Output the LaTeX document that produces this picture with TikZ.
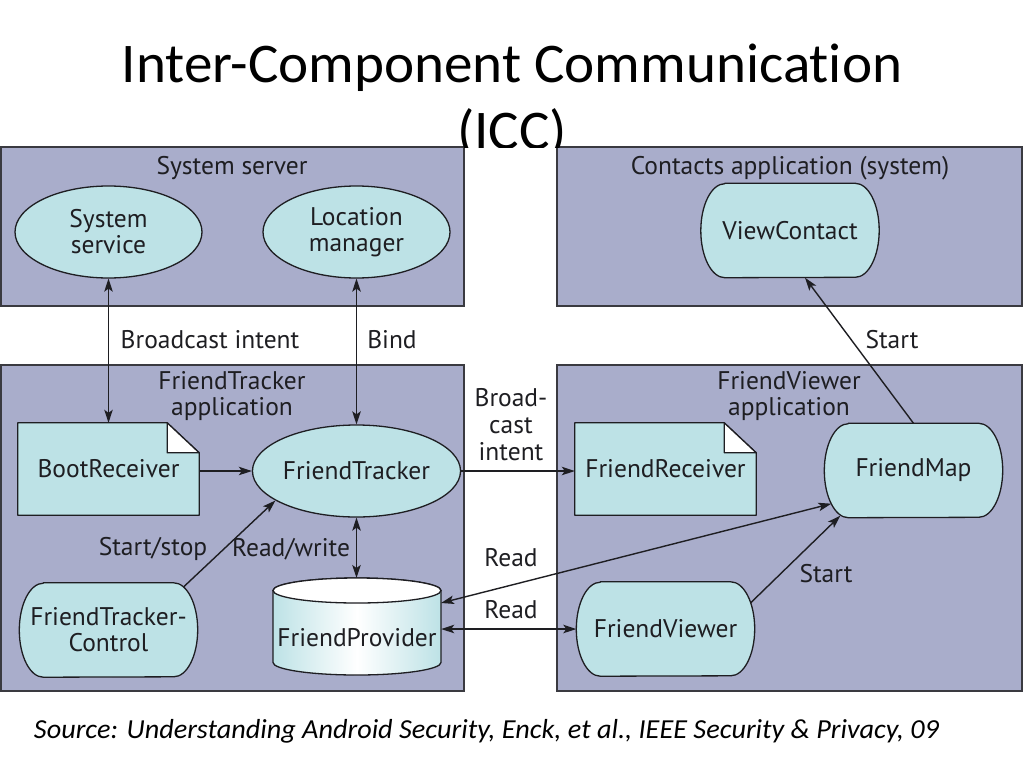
\documentclass[tikz,border=0pt]{standalone}
\usepackage{fontspec}
\setmainfont{PT Sans}
\newfontfamily\titlefont[Ligatures=NoCommon]{Carlito}
\usetikzlibrary{arrows.meta,shapes.geometric}
\definecolor{boxfill}{HTML}{A9ADCB}
\definecolor{nodefill}{HTML}{BDE2E6}
\definecolor{ink}{HTML}{1E1E22}
\definecolor{boxline}{HTML}{3A3A40}
\pgfdeclarelayer{grp}\pgfdeclarelayer{shp}\pgfsetlayers{grp,shp,main}
\tikzset{
  grpbox/.style={draw=boxline, fill=boxfill, line width=1.6pt},
  txt/.style={font=\fontsize{25.5}{26}\selectfont, text=ink, align=center, inner sep=0pt},
  lbl/.style={txt},
  ellnode/.style={txt, ellipse, draw=ink, fill=nodefill, line width=1.3pt, minimum width=187pt, minimum height=92pt},
  actnode/.style={txt, minimum width=178pt, minimum height=94pt},
  docnode/.style={txt, minimum width=181pt, minimum height=92pt},
  dbnode/.style={txt, minimum width=168pt, minimum height=97pt},
  shapeline/.style={draw=ink, fill=nodefill, line width=1.3pt, line join=round},
  conn/.style={draw=ink, line width=1.4pt},
  titletxt/.style={font=\titlefont\fontsize{56}{60}\selectfont, xscale=1.02, transform shape},
}
\newcommand\actshape[1]{%
  \path[shapeline] ([xshift=24pt]#1.north west) -- ([xshift=-24pt]#1.north east)
    arc[start angle=90,end angle=-90,x radius=24pt,y radius=47pt]
    -- ([xshift=24pt]#1.south west)
    arc[start angle=270,end angle=90,x radius=24pt,y radius=47pt] -- cycle;}
\newcommand\docshape[1]{%
  \path[shapeline] (#1.south west) -- (#1.south east) -- ([yshift=-30pt]#1.north east)
    -- ([xshift=-32pt]#1.north east) -- (#1.north west) -- cycle;
  \path[draw=ink, fill=white, line width=1.3pt, line join=round]
    ([xshift=-32pt]#1.north east) -- ([xshift=-32pt,yshift=-30pt]#1.north east)
    -- ([yshift=-30pt]#1.north east) -- cycle;}
\begin{document}
\begin{tikzpicture}[x=1pt,y=-1pt,>={Stealth[length=13pt,width=8.5pt,inset=3pt]}]
\useasboundingbox (0,0) rectangle (1024,768);
% title (clipped by the figure)
\begin{scope}
  \clip (0,0) rectangle (1024,147);
  \node[anchor=base, titletxt] (title1) at (512,82) {Inter-Component Communication};
  \node[anchor=base, titletxt] (title2) at (512,149) {(ICC)};
\end{scope}
% group boxes
\begin{pgfonlayer}{grp}
  \draw[grpbox] (1,147) rectangle (464,306);
  \draw[grpbox] (557,147) rectangle (1022,306);
  \draw[grpbox] (1,365) rectangle (464,691);
  \draw[grpbox] (557,365) rectangle (1022,691);
\end{pgfonlayer}
\node[lbl] (gss) at (232,168) {System server};
\node[lbl] (gca) at (790,168) {Contacts application (system)};
\node[lbl] (gft) at (232,396) {FriendTracker\\application};
\node[lbl] (gfv) at (789,396) {FriendViewer\\application};
% components
\node[ellnode] (ss) at (108.5,232) {System\\service};
\node[ellnode] (lm) at (356.5,232) {Location\\manager};
\node[actnode] (vc) at (790,230.5) {ViewContact};
\node[docnode] (br) at (108.5,469) {BootReceiver};
\node[ellnode] (ft) at (356.5,471) {FriendTracker};
\node[docnode] (fr) at (665.5,469) {FriendReceiver};
\node[actnode] (fm) at (913.5,470.5) {FriendMap};
\node[actnode] (ftc) at (108.5,630) {FriendTracker-\\Control};
\node[dbnode] (fp) at (357,638) {FriendProvider};
\node[actnode] (fv) at (665.5,629) {FriendViewer};
\begin{pgfonlayer}{shp}
  \actshape{vc}\actshape{fm}\actshape{ftc}\actshape{fv}
  \docshape{br}\docshape{fr}
  \path[draw=ink, line width=1.3pt, left color=nodefill, right color=nodefill, middle color=white]
    (273,590.5) -- (273,662.5)
    arc[start angle=180,end angle=360,x radius=84pt,y radius=12.5pt]
    -- (441,590.5)
    arc[start angle=0,end angle=180,x radius=84pt,y radius=12.5pt] -- cycle;
  \path[draw=ink, fill=white, line width=1.3pt] (357,590.5) ellipse [x radius=84pt, y radius=12.5pt];
\end{pgfonlayer}
% connector labels
\node[lbl] (lbi) at (210,340) {Broadcast intent};
\node[lbl] (lbind) at (392,340) {Bind};
\node[lbl] (lst1) at (892,340) {Start};
\node[lbl, font=\fontsize{25.5}{27}\selectfont] (lbc) at (511,425) {Broad-\\cast\\intent};
\node[lbl] (lss) at (153,549) {Start/stop};
\node[lbl] (lrw) at (291,549) {Read/write};
\node[lbl] (lrd1) at (511,558) {Read};
\node[lbl] (lrd2) at (511,610) {Read};
\node[lbl] (lst2) at (826,574) {Start};
% connectors
\draw[conn,<->] (ss.south) -- (br.north);
\draw[conn,<->] (lm.south) -- (ft.north);
\draw[conn,->] (br.east |- ft.west) -- (ft.west);
\draw[conn,->] ([xshift=-14pt,yshift=-4pt]ftc.north east) -- (ft.200);
\draw[conn,<->] (ft.south) -- (356.5,578);
\draw[conn,->] (ft.east) -- (ft.east -| fr.west);
\draw[conn,<->] (441,603) -- ([xshift=7pt,yshift=14pt]fm.south west);
\draw[conn,<->] (fv.west -| fp.east) -- (fv.west);
\draw[conn,->] ([xshift=-4pt,yshift=-21pt]fv.north east) -- ([xshift=16pt,yshift=2pt]fm.south west);
\draw[conn,->] (fm.north) -- ([xshift=15pt]vc.south);
% source
\node[anchor=base west, font=\titlefont\itshape\fontsize{25}{28}\selectfont, xscale=1.13, yscale=1.1, transform shape] (src) at (30,738) {Source: Understanding Android Security, Enck, et al., IEEE Security \& Privacy, 09};
\end{tikzpicture}
\end{document}
